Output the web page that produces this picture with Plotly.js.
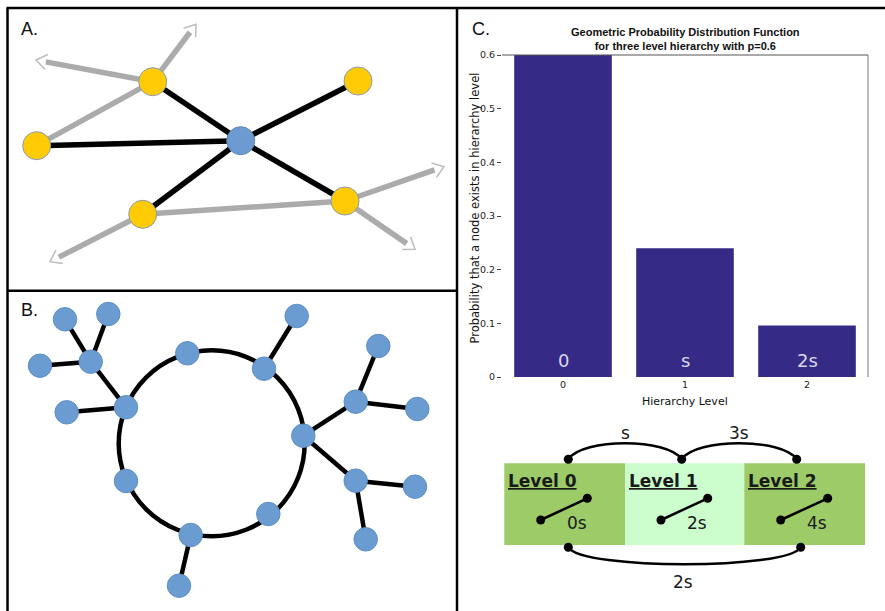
<!DOCTYPE html>
<html><head><meta charset="utf-8">
<script src="https://cdn.plot.ly/plotly-3.0.1.min.js"></script>
<style>html,body{margin:0;padding:0;background:#fff}#chart{width:885px;height:611px}</style>
</head><body><div id="chart"></div>
<script>
// ---------- Panel C: bar chart data ----------
const levels = [0, 1, 2];
const levelTicks = ['0', '1', '2'];
const probabilities = [0.6, 0.24, 0.096];
const barLabels = ['0', 's', '2s'];
const yTickVals = [0, 0.1, 0.2, 0.3, 0.4, 0.5, 0.6];
const yTickText = ['0', '0.1', '0.2', '0.3', '0.4', '0.5', '0.6'];
const chartTitle = 'Geometric Probability Distribution Function<br>for three level hierarchy with p=0.6';
const xTitle = 'Hierarchy Level';
const yTitle = 'Probability that a node exists in hierarchy level';

// ---------- Panel A: network (figure pixel coordinates) ----------
const aNodeX = [240.7, 152.7, 358, 36.7, 142.7, 345];
const aNodeY = [140.7, 81.7, 81, 145.7, 214.3, 201];
const aNodeKind = ['hub', 'peer', 'peer', 'peer', 'peer', 'peer'];
const aBlackEdges = [[0, 1], [0, 2], [0, 3], [0, 4], [0, 5]];
const aGrayEdges = [[3, 1], [4, 5]];
const aArrowFrom = [1, 1, 4, 5, 5];
const aArrowTipX = [36, 196, 50, 444, 415];
const aArrowTipY = [60, 24.3, 261.7, 166.7, 249.3];

// ---------- Panel B: ring network ----------
const bNodeX = [126, 187.3, 264, 303.3, 268.3, 190.7, 126, 90.7, 65, 108.3, 40, 66.7, 296.7, 355.7, 378.3, 417.3, 355.7, 415, 365.7, 179];
const bNodeY = [407.3, 353.3, 368.7, 435.7, 514, 535, 481, 361.7, 319.3, 314, 365.7, 412.3, 316, 401.7, 346, 409, 480.7, 486.7, 539.3, 585.7];
const bEdges = [[0, 7], [7, 8], [7, 9], [7, 10], [0, 11], [2, 12], [3, 13], [13, 14], [13, 15], [3, 16], [16, 17], [16, 18], [5, 19]];
const bRing = {cx: 211.7, cy: 443.3, r: 93};

// ---------- Panel C: hierarchy schematic ----------
const levelNames = ['Level 0', 'Level 1', 'Level 2'];
const levelDelays = ['0s', '2s', '4s'];
const levelBoxX0 = [504.3, 625, 744.3];
const levelBoxX1 = [625, 744.3, 865];
const levelFills = ['#9ccb67', '#ccfdcc', '#9ccb67'];
const switchX0 = [540.7, 661, 780.7];
const switchX1 = [587.3, 707.7, 827.7];
const topDotX = [568.3, 681.7, 796.7];
const topArcLabels = ['s', '3s'];
const bottomDotX = [568.3, 800.7];
const bottomArcLabel = '2s';

// ---------- build traces ----------
function edgeXY(ex, ey, edges) {
  const x = [], y = [];
  edges.forEach(([a, b]) => { x.push(ex[a], ex[b], null); y.push(ey[a], ey[b], null); });
  return {x, y};
}
const traces = [];
const P = {xaxis: 'x2', yaxis: 'y2', hoverinfo: 'skip', showlegend: false};

// Panel A gray edges + arrows
const ag = edgeXY(aNodeX, aNodeY, aGrayEdges);
const arrowLX = [], arrowLY = [], chevX = [], chevY = [];
aArrowFrom.forEach((n, i) => {
  const x0 = aNodeX[n], y0 = aNodeY[n], tx = aArrowTipX[i], ty = aArrowTipY[i];
  const dx = tx - x0, dy = ty - y0, L = Math.hypot(dx, dy), ux = dx / L, uy = dy / L;
  arrowLX.push(x0, tx - ux * 10, null); arrowLY.push(y0, ty - uy * 10, null);
  const a = 0.62, s = 13;
  const r1x = ux * Math.cos(a) - uy * Math.sin(a), r1y = ux * Math.sin(a) + uy * Math.cos(a);
  const r2x = ux * Math.cos(-a) - uy * Math.sin(-a), r2y = ux * Math.sin(-a) + uy * Math.cos(-a);
  chevX.push(tx - r1x * s, tx, tx - r2x * s, null); chevY.push(ty - r1y * s, ty, ty - r2y * s, null);
});
traces.push(Object.assign({type: 'scatter', mode: 'lines', x: ag.x.concat(arrowLX), y: ag.y.concat(arrowLY), line: {color: '#ababab', width: 5.5}}, P));
traces.push(Object.assign({type: 'scatter', mode: 'lines', x: chevX, y: chevY, line: {color: '#bdbdbd', width: 1.5}}, P));
const ab = edgeXY(aNodeX, aNodeY, aBlackEdges);
traces.push(Object.assign({type: 'scatter', mode: 'lines', x: ab.x, y: ab.y, line: {color: '#000', width: 5.5}}, P));
traces.push(Object.assign({type: 'scatter', mode: 'markers', x: aNodeX, y: aNodeY,
  marker: {size: 28, color: aNodeKind.map(k => k === 'hub' ? '#6d9bd1' : '#ffcb05'),
    line: {color: aNodeKind.map(k => k === 'hub' ? '#5b87ba' : '#8a9ab0'), width: 1}}}, P));

// Panel B
const be = edgeXY(bNodeX, bNodeY, bEdges);
traces.push(Object.assign({type: 'scatter', mode: 'lines', x: be.x, y: be.y, line: {color: '#000', width: 4.5}}, P));
traces.push(Object.assign({type: 'scatter', mode: 'markers', x: bNodeX, y: bNodeY,
  marker: {size: 23.5, color: '#6a9bd1', line: {color: '#5f8fc6', width: 1}}}, P));

// Panel C schematic: switches and dots
const swX = [], swY = [], dotX = [], dotY = [];
switchX0.forEach((x0, i) => {
  swX.push(x0, switchX1[i], null); swY.push(520, 498.3, null);
  dotX.push(x0, switchX1[i]); dotY.push(520, 498.3);
});
topDotX.forEach(x => { dotX.push(x); dotY.push(459.3); });
bottomDotX.forEach(x => { dotX.push(x); dotY.push(547.3); });
traces.push(Object.assign({type: 'scatter', mode: 'lines', x: swX, y: swY, line: {color: '#000', width: 2.5}}, P));
traces.push(Object.assign({type: 'scatter', mode: 'markers', x: dotX, y: dotY, marker: {size: 9, color: '#000'}}, P));

// Bar chart
traces.push({type: 'bar', x: levels, y: probabilities, width: 0.8, xaxis: 'x', yaxis: 'y',
  marker: {color: '#352a86', line: {width: 0}}, hoverinfo: 'skip', showlegend: false});

// ---------- shapes ----------
const shapes = [];
levelBoxX0.forEach((x0, i) => shapes.push({type: 'rect', xref: 'x2', yref: 'y2', x0: x0, x1: levelBoxX1[i], y0: 463.3, y1: 545,
  fillcolor: levelFills[i], line: {width: 0}, layer: 'below'}));
shapes.push({type: 'circle', xref: 'x2', yref: 'y2', x0: bRing.cx - bRing.r, x1: bRing.cx + bRing.r,
  y0: bRing.cy - bRing.r, y1: bRing.cy + bRing.r, line: {color: '#000', width: 4.5}, layer: 'below'});
function arcPath(xa, xb, y, yc) {
  return `M ${xa} ${y} C ${xa + 14} ${yc}, ${xb - 14} ${yc}, ${xb} ${y}`;
}
for (let i = 0; i < topDotX.length - 1; i++) {
  shapes.push({type: 'path', xref: 'x2', yref: 'y2', path: arcPath(topDotX[i], topDotX[i + 1], 459.3, 438), line: {color: '#000', width: 2.5}});
}
shapes.push({type: 'path', xref: 'x2', yref: 'y2', path: arcPath(bottomDotX[0], bottomDotX[1], 547.3, 570), line: {color: '#000', width: 2.5}});
shapes.push({type: 'line', xref: 'x domain', yref: 'y domain', x0: 0, x1: 1, y0: 1, y1: 1, line: {color: '#555', width: 1}});
shapes.push({type: 'line', xref: 'x domain', yref: 'y domain', x0: 1, x1: 1, y0: 0, y1: 1, line: {color: '#777', width: 1}});
const B = {color: '#000', width: 2.5};
shapes.push({type: 'line', xref: 'x2', yref: 'y2', x0: 6.5, x1: 885, y0: 8, y1: 8, line: B});
shapes.push({type: 'line', xref: 'x2', yref: 'y2', x0: 7.5, x1: 7.5, y0: 8, y1: 611, line: B});
shapes.push({type: 'line', xref: 'x2', yref: 'y2', x0: 457, x1: 457, y0: 8, y1: 611, line: B});
shapes.push({type: 'line', xref: 'x2', yref: 'y2', x0: 7.5, x1: 457, y0: 290.7, y1: 290.7, line: B});

// ---------- annotations ----------
const ann = [];
const A = (o) => Object.assign({xref: 'x2', yref: 'y2', showarrow: false, xanchor: 'center', yanchor: 'middle'}, o);
const schemFont = {family: 'DejaVu Sans', size: 17, color: '#1a1a1a'};
ann.push(A({x: 19, y: 29, xanchor: 'left', text: 'A.', font: {family: 'Liberation Sans', size: 18, color: '#111'}}));
ann.push(A({x: 19, y: 310, xanchor: 'left', text: 'B.', font: {family: 'Liberation Sans', size: 18, color: '#111'}}));
ann.push(A({x: 470, y: 29, xanchor: 'left', text: 'C.', font: {family: 'Liberation Sans', size: 18, color: '#111'}}));
ann.push(A({x: 685, y: 39, text: '<b>' + chartTitle + '</b>', font: {family: 'Liberation Sans', size: 11, color: '#111'}}));
ann.push(A({x: 685, y: 401.5, text: xTitle, font: {family: 'DejaVu Sans', size: 11, color: '#111'}}));
ann.push(A({x: 474.5, y: 208, text: yTitle, textangle: -90, font: {family: 'DejaVu Sans', size: 11.5, color: '#111'}}));
levels.forEach((lv, i) => ann.push({xref: 'x', yref: 'y', x: lv, y: 0, yshift: 17, showarrow: false, yanchor: 'middle',
  text: barLabels[i], font: {family: 'DejaVu Sans', size: 18, color: '#d9d9ea'}}));
levelNames.forEach((nm, i) => ann.push(A({x: levelBoxX0[i] + 1.5, y: 481, xanchor: 'left', text: '<u><b>' + nm + '</b></u>',
  font: {family: 'DejaVu Sans', size: 17, color: '#1a1a1a'}})));
levelDelays.forEach((d, i) => ann.push(A({x: (switchX0[i] + switchX1[i]) / 2 + 13, y: 523, text: d, font: schemFont})));
topArcLabels.forEach((t, i) => ann.push(A({x: (topDotX[i] + topDotX[i + 1]) / 2, y: 433, text: t, font: schemFont})));
ann.push(A({x: (bottomDotX[0] + bottomDotX[1]) / 2 - 2, y: 581.5, text: bottomArcLabel, font: schemFont}));

const layout = {
  width: 885, height: 611,
  margin: {l: 0, r: 0, t: 0, b: 0, pad: 0},
  paper_bgcolor: '#ffffff', plot_bgcolor: 'rgba(0,0,0,0)',
  showlegend: false,
  xaxis: {domain: [502 / 885, 868 / 885], range: [-0.5, 2.5], anchor: 'y', tickvals: levels, ticktext: levelTicks,
    showgrid: false, zeroline: false, showline: false, ticks: '', fixedrange: true,
    tickfont: {family: 'DejaVu Sans', size: 9.5, color: '#222'}},
  yaxis: {domain: [1 - 377 / 611, 1 - 55 / 611], range: [0, 0.6], anchor: 'x', tickvals: yTickVals, ticktext: yTickText,
    ticks: 'outside', ticklen: 4, tickcolor: '#444', showgrid: false, zeroline: false, showline: false, fixedrange: true,
    tickfont: {family: 'DejaVu Sans', size: 9.5, color: '#222'}},
  xaxis2: {domain: [0, 1], range: [0, 885], anchor: 'y2', visible: false, fixedrange: true},
  yaxis2: {domain: [0, 1], range: [611, 0], anchor: 'x2', visible: false, fixedrange: true},
  shapes: shapes,
  annotations: ann
};
Plotly.newPlot('chart', traces, layout, {displayModeBar: false, staticPlot: true});
</script></body></html>
